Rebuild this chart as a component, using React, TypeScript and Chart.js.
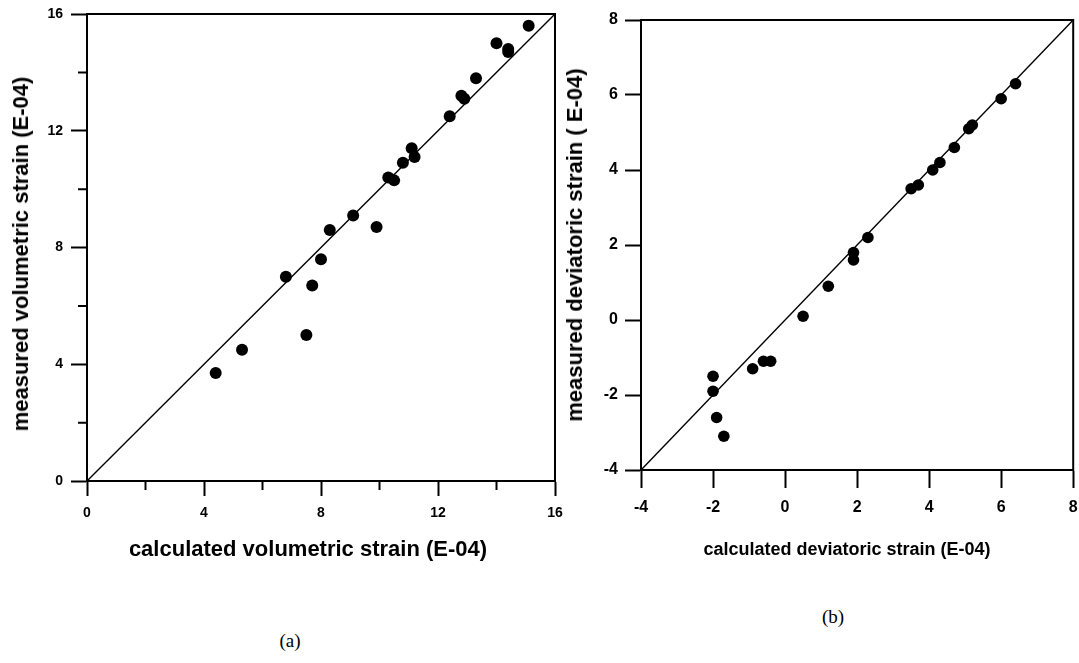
import React, { useEffect, useRef } from "react";
import { Chart, registerables } from "chart.js";

Chart.register(...registerables);

// (a) volumetric strain, E-04
const volCalculated = [15.1, 14.0, 14.4, 14.4, 13.3, 12.8, 12.9, 12.4, 11.1, 11.2, 10.8, 10.3, 10.5, 9.1, 9.9, 8.3, 8.0, 6.8, 7.7, 7.5, 5.3, 4.4];
const volMeasured = [15.6, 15.0, 14.8, 14.7, 13.8, 13.2, 13.1, 12.5, 11.4, 11.1, 10.9, 10.4, 10.3, 9.1, 8.7, 8.6, 7.6, 7.0, 6.7, 5.0, 4.5, 3.7];
const volRange = [0, 16];
const volMajorStep = 4;
const volMinorTicks = [2, 6, 10, 14];

// (b) deviatoric strain, E-04
const devCalculated = [6.4, 6.0, 5.2, 5.1, 4.7, 4.3, 4.1, 3.7, 3.5, 2.3, 1.9, 1.9, 1.2, 0.5, -0.4, -0.6, -0.9, -2.0, -2.0, -1.9, -1.7];
const devMeasured = [6.3, 5.9, 5.2, 5.1, 4.6, 4.2, 4.0, 3.6, 3.5, 2.2, 1.8, 1.6, 0.9, 0.1, -1.1, -1.1, -1.3, -1.5, -1.9, -2.6, -3.1];
const devRange = [-4, 8];
const devMajorStep = 2;
const devMinorTicks: number[] = [];

const SANS = "'Liberation Sans', Arial, Helvetica, sans-serif";

type PanelSpec = {
  xs: number[];
  ys: number[];
  range: number[];
  step: number;
  minor: number[];
  width: number;
  height: number;
  area: { left: number; top: number; right: number; bottom: number };
  tickFont: number;
  xTickLen: number;
  yTickLen: number;
  xLabelPad: number;
  yLabelPad: number;
  minorLen: number;
  pointRadius: number;
};

// Box frame around the plot area plus short unlabelled minor ticks
const framePlugin = {
  id: "frame",
  afterDraw(chart: any, _args: any, opts: any) {
    const { ctx, chartArea } = chart;
    const { left, top, right, bottom } = chartArea;
    ctx.save();
    ctx.strokeStyle = "#000";
    ctx.lineWidth = 2;
    ctx.strokeRect(left, top, right - left, bottom - top);
    const minor: number[] = opts.minor || [];
    const len: number = opts.minorLen || 9;
    const xs = chart.scales.x;
    const ys = chart.scales.y;
    ctx.beginPath();
    minor.forEach((v) => {
      const px = xs.getPixelForValue(v);
      ctx.moveTo(px, bottom);
      ctx.lineTo(px, bottom + len);
      const py = ys.getPixelForValue(v);
      ctx.moveTo(left, py);
      ctx.lineTo(left - len, py);
    });
    ctx.stroke();
    ctx.restore();
  },
};

function Panel({ spec, style }: { spec: PanelSpec; style: React.CSSProperties }) {
  const ref = useRef<HTMLCanvasElement>(null);
  useEffect(() => {
    if (!ref.current) return;
    const s = spec;
    const points = s.xs.map((x, i) => ({ x, y: s.ys[i] }));
    const diagonal = [
      { x: s.range[0], y: s.range[0] },
      { x: s.range[1], y: s.range[1] },
    ];
    const fitY = (scale: any) => {
      scale.width = s.area.left;
      scale.paddingTop = 0;
      scale.paddingBottom = 0;
    };
    const fitX = (scale: any) => {
      scale.height = s.height - s.area.bottom;
      scale.paddingLeft = 0;
      scale.paddingRight = 0;
    };
    const axisCommon = (tickLen: number, pad: number) => ({
      type: "linear" as const,
      min: s.range[0],
      max: s.range[1],
      ticks: {
        stepSize: s.step,
        autoSkip: false,
        color: "#000",
        padding: pad,
        font: { family: SANS, size: s.tickFont, weight: "bold" as const },
        maxRotation: 0,
      },
      grid: {
        display: true,
        drawOnChartArea: false,
        drawTicks: true,
        tickLength: tickLen,
        tickColor: "#000",
        tickWidth: 2,
      },
      border: { display: true, color: "#000", width: 2 },
    });
    const chart = new Chart(ref.current, {
      type: "scatter",
      data: {
        datasets: [
          {
            data: points,
            backgroundColor: "#000",
            borderColor: "#000",
            pointRadius: s.pointRadius,
            pointHoverRadius: s.pointRadius,
            pointBorderWidth: 0,
          },
          {
            data: diagonal,
            showLine: true,
            borderColor: "#000",
            borderWidth: 1.4,
            pointRadius: 0,
            fill: false,
          },
        ],
      },
      options: {
        responsive: false,
        animation: false,
        devicePixelRatio: 1,
        layout: {
          padding: {
            left: 0,
            top: s.area.top,
            right: s.width - s.area.right,
            bottom: 0,
          },
        },
        plugins: {
          legend: { display: false },
          tooltip: { enabled: false },
          frame: { minor: s.minor, minorLen: s.minorLen },
        } as any,
        scales: {
          x: { ...axisCommon(s.xTickLen, s.xLabelPad), position: "bottom", afterFit: fitX },
          y: { ...axisCommon(s.yTickLen, s.yLabelPad), position: "left", afterFit: fitY },
        },
      },
      plugins: [framePlugin],
    });
    return () => chart.destroy();
  }, [spec]);
  return (
    <canvas
      ref={ref}
      width={spec.width}
      height={spec.height}
      style={{ position: "absolute", width: spec.width, height: spec.height, ...style }}
    />
  );
}

const leftSpec: PanelSpec = {
  xs: volCalculated,
  ys: volMeasured,
  range: volRange,
  step: volMajorStep,
  minor: volMinorTicks,
  width: 580,
  height: 600,
  area: { left: 87, top: 14, right: 555, bottom: 481 },
  tickFont: 14,
  xTickLen: 15,
  yTickLen: 16,
  xLabelPad: 9,
  yLabelPad: 8,
  minorLen: 9,
  pointRadius: 6,
};

const rightSpec: PanelSpec = {
  xs: devCalculated,
  ys: devMeasured,
  range: devRange,
  step: devMajorStep,
  minor: devMinorTicks,
  width: 539,
  height: 600,
  area: { left: 101, top: 20, right: 535, bottom: 470 },
  tickFont: 16,
  xTickLen: 18,
  yTickLen: 16,
  xLabelPad: 10,
  yLabelPad: 7,
  minorLen: 0,
  pointRadius: 5.8,
};

const titleStyle = (size: number): React.CSSProperties => ({
  position: "absolute",
  fontFamily: SANS,
  fontWeight: "bold",
  fontSize: size,
  color: "#000",
  whiteSpace: "nowrap",
  lineHeight: 1,
});

const captionStyle: React.CSSProperties = {
  position: "absolute",
  transform: "translate(-50%, -50%)",
  fontFamily: "'Liberation Serif', 'Times New Roman', serif",
  fontSize: 19,
  whiteSpace: "nowrap",
  lineHeight: 1,
};

export default function App() {
  return (
    <div
      style={{
        position: "absolute",
        left: 0,
        top: 0,
        width: 1079,
        height: 663,
        background: "#fff",
        overflow: "hidden",
      }}
    >
      <Panel spec={leftSpec} style={{ left: 0, top: 0 }} />
      <Panel spec={rightSpec} style={{ left: 540, top: 0 }} />

      <div style={{ ...titleStyle(22), left: 308, top: 549, transform: "translate(-50%, -50%)" }}>
        calculated volumetric strain (E-04)
      </div>
      <div
        style={{
          ...titleStyle(22),
          left: 21,
          top: 254,
          transform: "translate(-50%, -50%) rotate(-90deg)",
        }}
      >
        measured volumetric strain (E-04)
      </div>

      <div style={{ ...titleStyle(18), left: 847, top: 549, transform: "translate(-50%, -50%)" }}>
        calculated deviatoric strain (E-04)
      </div>
      <div
        style={{
          ...titleStyle(22),
          left: 575,
          top: 245,
          transform: "translate(-50%, -50%) rotate(-90deg)",
        }}
      >
        measured deviatoric strain ( E-04)
      </div>

      <div style={{ ...captionStyle, left: 290, top: 640 }}>(a)</div>
      <div style={{ ...captionStyle, left: 833, top: 616 }}>(b)</div>
    </div>
  );
}
